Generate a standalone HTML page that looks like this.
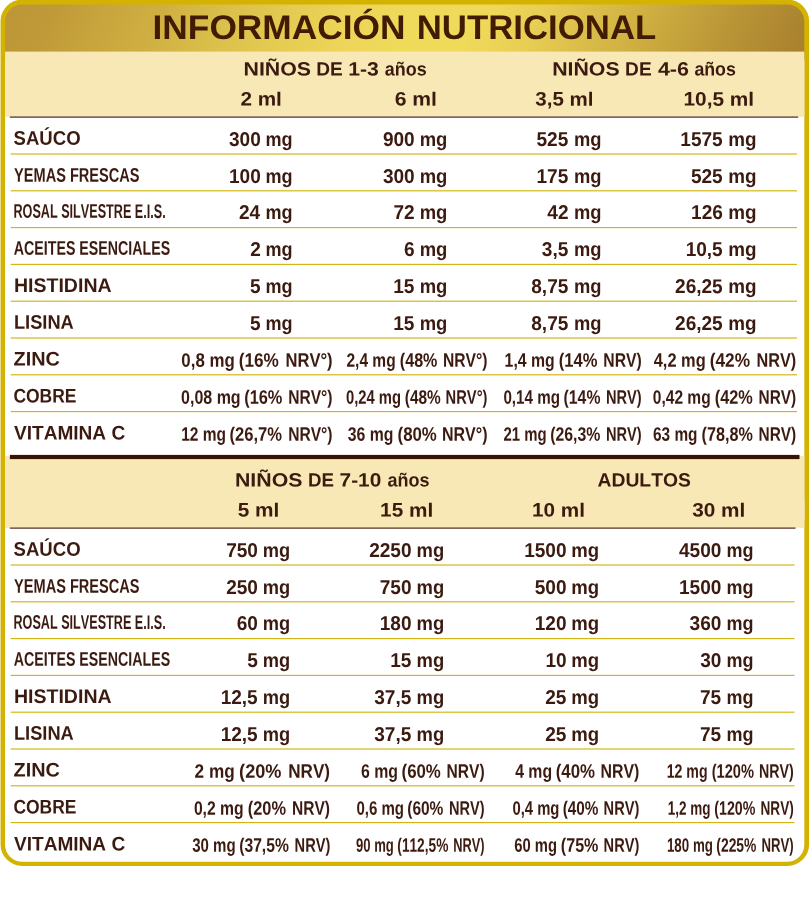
<!DOCTYPE html>
<html lang="es">
<head>
<meta charset="utf-8">
<title>Información nutricional</title>
<style>
html,body{margin:0;padding:0;background:#ffffff;}
body{width:810px;height:902px;overflow:hidden;font-family:"Liberation Sans",sans-serif;}
svg{display:block;}
svg text{font-family:"Liberation Sans",sans-serif;font-weight:700;font-kerning:none;white-space:pre;}
</style>
</head>
<body>
<svg width="810" height="902" viewBox="0 0 810 902">
<defs>
<linearGradient id="hg" gradientUnits="userSpaceOnUse" x1="0" y1="28" x2="663.9" y2="339.2">
<stop offset="0" stop-color="#bd9737"/>
<stop offset="0.06" stop-color="#c09a38"/>
<stop offset="0.12" stop-color="#c8a53d"/>
<stop offset="0.19" stop-color="#d0af42"/>
<stop offset="0.27" stop-color="#dabf4a"/>
<stop offset="0.35" stop-color="#e4cb52"/>
<stop offset="0.43" stop-color="#ecd558"/>
<stop offset="0.50" stop-color="#f0da5a"/>
<stop offset="0.58" stop-color="#f0da5a"/>
<stop offset="0.66" stop-color="#e8ce54"/>
<stop offset="0.74" stop-color="#d8ba48"/>
<stop offset="0.81" stop-color="#cbab3f"/>
<stop offset="0.90" stop-color="#ba9536"/>
<stop offset="1" stop-color="#a9812f"/>
</linearGradient>
</defs>
<rect x="0.57" y="-0.4" width="808.53" height="866.3" rx="21.5" ry="21.5" fill="#d3b300"/>
<path d="M5.07,70 L5.07,21.4 A17.0,17.0 0 0 1 22.07,4.4 L787.3,4.4 A17.0,17.0 0 0 1 804.3,21.4 L804.3,70 Z" fill="url(#hg)"/>
<path d="M5.07,500 L804.3,500 L804.3,844.7 A17.0,17.0 0 0 1 787.3,861.7 L22.07,861.7 A17.0,17.0 0 0 1 5.07,844.7 Z" fill="#ffffff"/>
<rect x="5.07" y="60" width="799.2299999999999" height="460" fill="#ffffff"/>
<rect x="5.07" y="51.6" width="799.2299999999999" height="65.30" fill="#f8e8b5"/>
<rect x="5.07" y="455.8" width="799.2299999999999" height="72" fill="#f8e8b5"/>
<rect x="9.8" y="116.4" width="788.4" height="1.45" fill="#6b4c40"/>
<rect x="9.8" y="527.4" width="785.7" height="1.45" fill="#6b4c40"/>
<rect x="9.9" y="454.9" width="789.6" height="4.2" fill="#3a1403"/>
<rect x="10.7" y="153.42" width="786.3" height="1.16" fill="#d3b510"/>
<rect x="10.7" y="190.22" width="786.3" height="1.16" fill="#d3b510"/>
<rect x="10.7" y="227.02" width="786.3" height="1.16" fill="#d3b510"/>
<rect x="10.7" y="263.82" width="786.3" height="1.16" fill="#d3b510"/>
<rect x="10.7" y="300.62" width="786.3" height="1.16" fill="#d3b510"/>
<rect x="10.7" y="337.42" width="786.3" height="1.16" fill="#d3b510"/>
<rect x="10.7" y="374.22" width="786.3" height="1.16" fill="#d3b510"/>
<rect x="10.7" y="411.02" width="786.3" height="1.16" fill="#d3b510"/>
<rect x="10.7" y="564.42" width="783.8" height="1.16" fill="#d3b510"/>
<rect x="10.7" y="601.22" width="783.8" height="1.16" fill="#d3b510"/>
<rect x="10.7" y="638.02" width="783.8" height="1.16" fill="#d3b510"/>
<rect x="10.7" y="674.82" width="783.8" height="1.16" fill="#d3b510"/>
<rect x="10.7" y="711.62" width="783.8" height="1.16" fill="#d3b510"/>
<rect x="10.7" y="748.42" width="783.8" height="1.16" fill="#d3b510"/>
<rect x="10.7" y="785.22" width="783.8" height="1.16" fill="#d3b510"/>
<rect x="10.7" y="822.02" width="783.8" height="1.16" fill="#d3b510"/>
<g font-family="'Liberation Sans', sans-serif" font-weight="700" style="font-kerning:none" text-rendering="geometricPrecision" opacity="0.999">
<text transform="rotate(0.05 152.54 38.90)" x="152.54" y="38.90" textLength="252.94" lengthAdjust="spacingAndGlyphs" font-size="34.16" fill="#421b05">INFORMACIÓN</text>
<text transform="rotate(0.05 416.77 38.90)" x="416.77" y="38.90" textLength="239.50" lengthAdjust="spacingAndGlyphs" font-size="34.16" fill="#421b05">NUTRICIONAL</text>
<text transform="translate(243.47,75.40) rotate(0.05) scale(1.1119,1)" font-size="19.19" fill="#3b1a10">NIÑOS</text>
<text transform="translate(316.22,75.40) rotate(0.05) scale(0.9951,1)" font-size="19.19" fill="#3b1a10">DE</text>
<text transform="translate(348.27,75.40) rotate(0.05) scale(1.1034,1)" font-size="19.19" fill="#3b1a10">1-3</text>
<text transform="translate(384.87,75.40) rotate(0.05) scale(0.9348,1)" font-size="19.19" fill="#3b1a10">años</text>
<text transform="translate(552.18,75.40) rotate(0.05) scale(1.1102,1)" font-size="19.19" fill="#3b1a10">NIÑOS</text>
<text transform="translate(625.12,75.40) rotate(0.05) scale(0.9951,1)" font-size="19.19" fill="#3b1a10">DE</text>
<text transform="translate(657.88,75.40) rotate(0.05) scale(1.1179,1)" font-size="19.19" fill="#3b1a10">4-6</text>
<text transform="translate(694.38,75.40) rotate(0.05) scale(0.9256,1)" font-size="19.19" fill="#3b1a10">años</text>
<text transform="translate(240.38,105.60) rotate(0.05) scale(1.0645,1)" font-size="19.48" fill="#3b1a10">2 ml</text>
<text transform="translate(394.63,105.60) rotate(0.05) scale(1.0846,1)" font-size="19.48" fill="#3b1a10">6 ml</text>
<text transform="translate(535.33,105.60) rotate(0.05) scale(1.0545,1)" font-size="19.48" fill="#3b1a10">3,5 ml</text>
<text transform="translate(683.49,105.60) rotate(0.05) scale(1.0702,1)" font-size="19.48" fill="#3b1a10">10,5 ml</text>
<text transform="translate(13.57,144.70) rotate(0.05) scale(0.9387,1)" font-size="19.77" fill="#3b1a10">SAÚCO</text>
<text transform="translate(14.05,181.70) rotate(0.05) scale(0.7373,1)" font-size="19.77" fill="#3b1a10">YEMAS FRESCAS</text>
<text transform="translate(13.45,217.80) rotate(0.05) scale(0.6390,1)" font-size="19.77" fill="#3b1a10">ROSAL SILVESTRE E.I.S.</text>
<text transform="translate(13.75,254.70) rotate(0.05) scale(0.7192,1)" font-size="19.77" fill="#3b1a10">ACEITES ESENCIALES</text>
<text transform="translate(13.89,291.90) rotate(0.05) scale(0.9887,1)" font-size="19.77" fill="#3b1a10">HISTIDINA</text>
<text transform="translate(13.98,328.70) rotate(0.05) scale(0.9229,1)" font-size="19.77" fill="#3b1a10">LISINA</text>
<text transform="translate(13.51,365.40) rotate(0.05) scale(1.0047,1)" font-size="19.77" fill="#3b1a10">ZINC</text>
<text transform="translate(13.38,402.50) rotate(0.05) scale(0.8839,1)" font-size="19.77" fill="#3b1a10">COBRE</text>
<text transform="translate(13.97,439.40) rotate(0.05) scale(0.9648,1)" font-size="19.77" fill="#3b1a10">VITAMINA C</text>
<text transform="translate(265.41,145.90) rotate(0.05) scale(0.9007,1)" font-size="20.06" fill="#3b1a10">mg</text>
<text transform="translate(228.98,145.90) rotate(0.05) scale(0.9502,1)" font-size="20.06" fill="#3b1a10">300</text>
<text transform="translate(419.69,145.90) rotate(0.05) scale(0.9189,1)" font-size="20.06" fill="#3b1a10">mg</text>
<text transform="translate(382.88,145.90) rotate(0.05) scale(0.9502,1)" font-size="20.06" fill="#3b1a10">900</text>
<text transform="translate(573.99,145.90) rotate(0.05) scale(0.9153,1)" font-size="20.06" fill="#3b1a10">mg</text>
<text transform="translate(536.53,145.90) rotate(0.05) scale(0.9502,1)" font-size="20.06" fill="#3b1a10">525</text>
<text transform="translate(728.16,145.90) rotate(0.05) scale(0.9408,1)" font-size="20.06" fill="#3b1a10">mg</text>
<text transform="translate(680.33,145.90) rotate(0.05) scale(0.9502,1)" font-size="20.06" fill="#3b1a10">1575</text>
<text transform="translate(265.41,182.90) rotate(0.05) scale(0.9007,1)" font-size="20.06" fill="#3b1a10">mg</text>
<text transform="translate(228.98,182.90) rotate(0.05) scale(0.9502,1)" font-size="20.06" fill="#3b1a10">100</text>
<text transform="translate(419.69,182.90) rotate(0.05) scale(0.9189,1)" font-size="20.06" fill="#3b1a10">mg</text>
<text transform="translate(382.88,182.90) rotate(0.05) scale(0.9502,1)" font-size="20.06" fill="#3b1a10">300</text>
<text transform="translate(573.99,182.90) rotate(0.05) scale(0.9153,1)" font-size="20.06" fill="#3b1a10">mg</text>
<text transform="translate(536.53,182.90) rotate(0.05) scale(0.9502,1)" font-size="20.06" fill="#3b1a10">175</text>
<text transform="translate(728.16,182.90) rotate(0.05) scale(0.9408,1)" font-size="20.06" fill="#3b1a10">mg</text>
<text transform="translate(690.93,182.90) rotate(0.05) scale(0.9502,1)" font-size="20.06" fill="#3b1a10">525</text>
<text transform="translate(265.41,219.00) rotate(0.05) scale(0.9007,1)" font-size="20.06" fill="#3b1a10">mg</text>
<text transform="translate(238.90,219.00) rotate(0.05) scale(0.9502,1)" font-size="20.06" fill="#3b1a10">24</text>
<text transform="translate(419.69,219.00) rotate(0.05) scale(0.9189,1)" font-size="20.06" fill="#3b1a10">mg</text>
<text transform="translate(393.46,219.00) rotate(0.05) scale(0.9502,1)" font-size="20.06" fill="#3b1a10">72</text>
<text transform="translate(573.99,219.00) rotate(0.05) scale(0.9153,1)" font-size="20.06" fill="#3b1a10">mg</text>
<text transform="translate(547.36,219.00) rotate(0.05) scale(0.9502,1)" font-size="20.06" fill="#3b1a10">42</text>
<text transform="translate(728.16,219.00) rotate(0.05) scale(0.9408,1)" font-size="20.06" fill="#3b1a10">mg</text>
<text transform="translate(691.09,219.00) rotate(0.05) scale(0.9502,1)" font-size="20.06" fill="#3b1a10">126</text>
<text transform="translate(265.41,255.90) rotate(0.05) scale(0.9007,1)" font-size="20.06" fill="#3b1a10">mg</text>
<text transform="translate(250.16,255.90) rotate(0.05) scale(0.9502,1)" font-size="20.06" fill="#3b1a10">2</text>
<text transform="translate(419.69,255.90) rotate(0.05) scale(0.9189,1)" font-size="20.06" fill="#3b1a10">mg</text>
<text transform="translate(403.99,255.90) rotate(0.05) scale(0.9502,1)" font-size="20.06" fill="#3b1a10">6</text>
<text transform="translate(573.99,255.90) rotate(0.05) scale(0.9153,1)" font-size="20.06" fill="#3b1a10">mg</text>
<text transform="translate(541.84,255.90) rotate(0.05) scale(0.9502,1)" font-size="20.06" fill="#3b1a10">3,5</text>
<text transform="translate(728.16,255.90) rotate(0.05) scale(0.9408,1)" font-size="20.06" fill="#3b1a10">mg</text>
<text transform="translate(685.64,255.90) rotate(0.05) scale(0.9502,1)" font-size="20.06" fill="#3b1a10">10,5</text>
<text transform="translate(265.41,293.10) rotate(0.05) scale(0.9007,1)" font-size="20.06" fill="#3b1a10">mg</text>
<text transform="translate(249.93,293.10) rotate(0.05) scale(0.9502,1)" font-size="20.06" fill="#3b1a10">5</text>
<text transform="translate(419.69,293.10) rotate(0.05) scale(0.9189,1)" font-size="20.06" fill="#3b1a10">mg</text>
<text transform="translate(393.23,293.10) rotate(0.05) scale(0.9502,1)" font-size="20.06" fill="#3b1a10">15</text>
<text transform="translate(573.99,293.10) rotate(0.05) scale(0.9153,1)" font-size="20.06" fill="#3b1a10">mg</text>
<text transform="translate(531.24,293.10) rotate(0.05) scale(0.9502,1)" font-size="20.06" fill="#3b1a10">8,75</text>
<text transform="translate(728.16,293.10) rotate(0.05) scale(0.9408,1)" font-size="20.06" fill="#3b1a10">mg</text>
<text transform="translate(675.04,293.10) rotate(0.05) scale(0.9502,1)" font-size="20.06" fill="#3b1a10">26,25</text>
<text transform="translate(265.41,329.90) rotate(0.05) scale(0.9007,1)" font-size="20.06" fill="#3b1a10">mg</text>
<text transform="translate(249.93,329.90) rotate(0.05) scale(0.9502,1)" font-size="20.06" fill="#3b1a10">5</text>
<text transform="translate(419.69,329.90) rotate(0.05) scale(0.9189,1)" font-size="20.06" fill="#3b1a10">mg</text>
<text transform="translate(393.23,329.90) rotate(0.05) scale(0.9502,1)" font-size="20.06" fill="#3b1a10">15</text>
<text transform="translate(573.99,329.90) rotate(0.05) scale(0.9153,1)" font-size="20.06" fill="#3b1a10">mg</text>
<text transform="translate(531.24,329.90) rotate(0.05) scale(0.9502,1)" font-size="20.06" fill="#3b1a10">8,75</text>
<text transform="translate(728.16,329.90) rotate(0.05) scale(0.9408,1)" font-size="20.06" fill="#3b1a10">mg</text>
<text transform="translate(675.04,329.90) rotate(0.05) scale(0.9502,1)" font-size="20.06" fill="#3b1a10">26,25</text>
<text transform="translate(181.33,366.65) rotate(0.05) scale(0.8653,1)" font-size="19.48" fill="#3b1a10">0,8 mg</text>
<text transform="translate(238.74,366.65) rotate(0.05) scale(0.8821,1)" font-size="19.48" fill="#3b1a10">(16%</text>
<text transform="translate(285.49,366.65) rotate(0.05) scale(0.8508,1)" font-size="19.48" fill="#3b1a10">NRV°)</text>
<text transform="translate(346.46,366.65) rotate(0.05) scale(0.7970,1)" font-size="19.48" fill="#3b1a10">2,4 mg</text>
<text transform="translate(399.80,366.65) rotate(0.05) scale(0.8276,1)" font-size="19.48" fill="#3b1a10">(48%</text>
<text transform="translate(442.95,366.65) rotate(0.05) scale(0.8038,1)" font-size="19.48" fill="#3b1a10">NRV°)</text>
<text transform="translate(504.60,366.65) rotate(0.05) scale(0.8112,1)" font-size="19.48" fill="#3b1a10">1,4 mg</text>
<text transform="translate(558.78,366.65) rotate(0.05) scale(0.8503,1)" font-size="19.48" fill="#3b1a10">(14%</text>
<text transform="translate(603.35,366.65) rotate(0.05) scale(0.8073,1)" font-size="19.48" fill="#3b1a10">NRV)</text>
<text transform="translate(653.75,366.65) rotate(0.05) scale(0.8419,1)" font-size="19.48" fill="#3b1a10">4,2 mg</text>
<text transform="translate(709.74,366.65) rotate(0.05) scale(0.8867,1)" font-size="19.48" fill="#3b1a10">(42%</text>
<text transform="translate(756.51,366.65) rotate(0.05) scale(0.8360,1)" font-size="19.48" fill="#3b1a10">NRV)</text>
<text transform="translate(181.07,403.75) rotate(0.05) scale(0.8217,1)" font-size="19.48" fill="#3b1a10">0,08 mg</text>
<text transform="translate(244.18,403.75) rotate(0.05) scale(0.8412,1)" font-size="19.48" fill="#3b1a10">(16%</text>
<text transform="translate(288.16,403.75) rotate(0.05) scale(0.8019,1)" font-size="19.48" fill="#3b1a10">NRV°)</text>
<text transform="translate(345.92,403.75) rotate(0.05) scale(0.7593,1)" font-size="19.48" fill="#3b1a10">0,24 mg</text>
<text transform="translate(404.83,403.75) rotate(0.05) scale(0.7912,1)" font-size="19.48" fill="#3b1a10">(48%</text>
<text transform="translate(445.62,403.75) rotate(0.05) scale(0.7548,1)" font-size="19.48" fill="#3b1a10">NRV°)</text>
<text transform="translate(503.40,403.75) rotate(0.05) scale(0.7806,1)" font-size="19.48" fill="#3b1a10">0,14 mg</text>
<text transform="translate(563.61,403.75) rotate(0.05) scale(0.8094,1)" font-size="19.48" fill="#3b1a10">(14%</text>
<text transform="translate(606.02,403.75) rotate(0.05) scale(0.7500,1)" font-size="19.48" fill="#3b1a10">NRV)</text>
<text transform="translate(652.79,403.75) rotate(0.05) scale(0.7976,1)" font-size="19.48" fill="#3b1a10">0,42 mg</text>
<text transform="translate(714.79,403.75) rotate(0.05) scale(0.8366,1)" font-size="19.48" fill="#3b1a10">(42%</text>
<text transform="translate(758.57,403.75) rotate(0.05) scale(0.7919,1)" font-size="19.48" fill="#3b1a10">NRV)</text>
<text transform="translate(181.22,440.65) rotate(0.05) scale(0.7961,1)" font-size="19.48" fill="#3b1a10">12 mg</text>
<text transform="translate(229.58,440.65) rotate(0.05) scale(0.8501,1)" font-size="19.48" fill="#3b1a10">(26,7%</text>
<text transform="translate(288.16,440.65) rotate(0.05) scale(0.8019,1)" font-size="19.48" fill="#3b1a10">NRV°)</text>
<text transform="translate(347.84,440.65) rotate(0.05) scale(0.8104,1)" font-size="19.48" fill="#3b1a10">36 mg</text>
<text transform="translate(397.56,440.65) rotate(0.05) scale(0.8639,1)" font-size="19.48" fill="#3b1a10">(80%</text>
<text transform="translate(441.93,440.65) rotate(0.05) scale(0.8226,1)" font-size="19.48" fill="#3b1a10">NRV°)</text>
<text transform="translate(503.48,440.65) rotate(0.05) scale(0.7659,1)" font-size="19.48" fill="#3b1a10">21 mg</text>
<text transform="translate(550.21,440.65) rotate(0.05) scale(0.8136,1)" font-size="19.48" fill="#3b1a10">(26,3%</text>
<text transform="translate(606.02,440.65) rotate(0.05) scale(0.7500,1)" font-size="19.48" fill="#3b1a10">NRV)</text>
<text transform="translate(653.04,440.65) rotate(0.05) scale(0.7886,1)" font-size="19.48" fill="#3b1a10">63 mg</text>
<text transform="translate(701.59,440.65) rotate(0.05) scale(0.8302,1)" font-size="19.48" fill="#3b1a10">(78,8%</text>
<text transform="translate(758.57,440.65) rotate(0.05) scale(0.7919,1)" font-size="19.48" fill="#3b1a10">NRV)</text>
<text transform="translate(234.98,486.40) rotate(0.05) scale(1.1102,1)" font-size="19.19" fill="#3b1a10">NIÑOS</text>
<text transform="translate(307.95,486.40) rotate(0.05) scale(0.9748,1)" font-size="19.19" fill="#3b1a10">DE</text>
<text transform="translate(339.61,486.40) rotate(0.05) scale(1.0845,1)" font-size="19.19" fill="#3b1a10">7-10</text>
<text transform="translate(387.47,486.40) rotate(0.05) scale(0.9394,1)" font-size="19.19" fill="#3b1a10">años</text>
<text transform="translate(597.52,486.40) rotate(0.05) scale(1.0066,1)" font-size="19.19" fill="#3b1a10">ADULTOS</text>
<text transform="translate(237.76,516.60) rotate(0.05) scale(1.0677,1)" font-size="19.48" fill="#3b1a10">5 ml</text>
<text transform="translate(380.09,516.60) rotate(0.05) scale(1.0657,1)" font-size="19.48" fill="#3b1a10">15 ml</text>
<text transform="translate(532.00,516.60) rotate(0.05) scale(1.0636,1)" font-size="19.48" fill="#3b1a10">10 ml</text>
<text transform="translate(692.22,516.60) rotate(0.05) scale(1.0650,1)" font-size="19.48" fill="#3b1a10">30 ml</text>
<text transform="translate(13.57,555.70) rotate(0.05) scale(0.9387,1)" font-size="19.77" fill="#3b1a10">SAÚCO</text>
<text transform="translate(14.05,592.70) rotate(0.05) scale(0.7373,1)" font-size="19.77" fill="#3b1a10">YEMAS FRESCAS</text>
<text transform="translate(13.45,628.80) rotate(0.05) scale(0.6390,1)" font-size="19.77" fill="#3b1a10">ROSAL SILVESTRE E.I.S.</text>
<text transform="translate(13.75,665.70) rotate(0.05) scale(0.7192,1)" font-size="19.77" fill="#3b1a10">ACEITES ESENCIALES</text>
<text transform="translate(13.89,702.90) rotate(0.05) scale(0.9887,1)" font-size="19.77" fill="#3b1a10">HISTIDINA</text>
<text transform="translate(13.98,739.70) rotate(0.05) scale(0.9229,1)" font-size="19.77" fill="#3b1a10">LISINA</text>
<text transform="translate(13.51,776.40) rotate(0.05) scale(1.0047,1)" font-size="19.77" fill="#3b1a10">ZINC</text>
<text transform="translate(13.38,813.50) rotate(0.05) scale(0.8839,1)" font-size="19.77" fill="#3b1a10">COBRE</text>
<text transform="translate(13.97,850.40) rotate(0.05) scale(0.9648,1)" font-size="19.77" fill="#3b1a10">VITAMINA C</text>
<text transform="translate(262.69,556.90) rotate(0.05) scale(0.9116,1)" font-size="20.06" fill="#3b1a10">mg</text>
<text transform="translate(226.18,556.90) rotate(0.05) scale(0.9502,1)" font-size="20.06" fill="#3b1a10">750</text>
<text transform="translate(416.59,556.90) rotate(0.05) scale(0.9189,1)" font-size="20.06" fill="#3b1a10">mg</text>
<text transform="translate(369.18,556.90) rotate(0.05) scale(0.9502,1)" font-size="20.06" fill="#3b1a10">2250</text>
<text transform="translate(571.18,556.90) rotate(0.05) scale(0.9262,1)" font-size="20.06" fill="#3b1a10">mg</text>
<text transform="translate(524.18,556.90) rotate(0.05) scale(0.9502,1)" font-size="20.06" fill="#3b1a10">1500</text>
<text transform="translate(726.41,556.90) rotate(0.05) scale(0.8970,1)" font-size="20.06" fill="#3b1a10">mg</text>
<text transform="translate(678.98,556.90) rotate(0.05) scale(0.9502,1)" font-size="20.06" fill="#3b1a10">4500</text>
<text transform="translate(262.69,593.90) rotate(0.05) scale(0.9116,1)" font-size="20.06" fill="#3b1a10">mg</text>
<text transform="translate(226.18,593.90) rotate(0.05) scale(0.9502,1)" font-size="20.06" fill="#3b1a10">250</text>
<text transform="translate(416.59,593.90) rotate(0.05) scale(0.9189,1)" font-size="20.06" fill="#3b1a10">mg</text>
<text transform="translate(379.78,593.90) rotate(0.05) scale(0.9502,1)" font-size="20.06" fill="#3b1a10">750</text>
<text transform="translate(571.18,593.90) rotate(0.05) scale(0.9262,1)" font-size="20.06" fill="#3b1a10">mg</text>
<text transform="translate(534.78,593.90) rotate(0.05) scale(0.9502,1)" font-size="20.06" fill="#3b1a10">500</text>
<text transform="translate(726.41,593.90) rotate(0.05) scale(0.8970,1)" font-size="20.06" fill="#3b1a10">mg</text>
<text transform="translate(678.98,593.90) rotate(0.05) scale(0.9502,1)" font-size="20.06" fill="#3b1a10">1500</text>
<text transform="translate(262.69,630.00) rotate(0.05) scale(0.9116,1)" font-size="20.06" fill="#3b1a10">mg</text>
<text transform="translate(236.78,630.00) rotate(0.05) scale(0.9502,1)" font-size="20.06" fill="#3b1a10">60</text>
<text transform="translate(416.59,630.00) rotate(0.05) scale(0.9189,1)" font-size="20.06" fill="#3b1a10">mg</text>
<text transform="translate(379.78,630.00) rotate(0.05) scale(0.9502,1)" font-size="20.06" fill="#3b1a10">180</text>
<text transform="translate(571.18,630.00) rotate(0.05) scale(0.9262,1)" font-size="20.06" fill="#3b1a10">mg</text>
<text transform="translate(534.78,630.00) rotate(0.05) scale(0.9502,1)" font-size="20.06" fill="#3b1a10">120</text>
<text transform="translate(726.41,630.00) rotate(0.05) scale(0.8970,1)" font-size="20.06" fill="#3b1a10">mg</text>
<text transform="translate(689.58,630.00) rotate(0.05) scale(0.9502,1)" font-size="20.06" fill="#3b1a10">360</text>
<text transform="translate(262.69,666.90) rotate(0.05) scale(0.9116,1)" font-size="20.06" fill="#3b1a10">mg</text>
<text transform="translate(247.13,666.90) rotate(0.05) scale(0.9502,1)" font-size="20.06" fill="#3b1a10">5</text>
<text transform="translate(416.59,666.90) rotate(0.05) scale(0.9189,1)" font-size="20.06" fill="#3b1a10">mg</text>
<text transform="translate(390.13,666.90) rotate(0.05) scale(0.9502,1)" font-size="20.06" fill="#3b1a10">15</text>
<text transform="translate(571.18,666.90) rotate(0.05) scale(0.9262,1)" font-size="20.06" fill="#3b1a10">mg</text>
<text transform="translate(545.38,666.90) rotate(0.05) scale(0.9502,1)" font-size="20.06" fill="#3b1a10">10</text>
<text transform="translate(726.41,666.90) rotate(0.05) scale(0.8970,1)" font-size="20.06" fill="#3b1a10">mg</text>
<text transform="translate(700.18,666.90) rotate(0.05) scale(0.9502,1)" font-size="20.06" fill="#3b1a10">30</text>
<text transform="translate(262.69,704.10) rotate(0.05) scale(0.9116,1)" font-size="20.06" fill="#3b1a10">mg</text>
<text transform="translate(220.64,704.10) rotate(0.05) scale(0.9502,1)" font-size="20.06" fill="#3b1a10">12,5</text>
<text transform="translate(416.59,704.10) rotate(0.05) scale(0.9189,1)" font-size="20.06" fill="#3b1a10">mg</text>
<text transform="translate(374.24,704.10) rotate(0.05) scale(0.9502,1)" font-size="20.06" fill="#3b1a10">37,5</text>
<text transform="translate(571.18,704.10) rotate(0.05) scale(0.9262,1)" font-size="20.06" fill="#3b1a10">mg</text>
<text transform="translate(545.13,704.10) rotate(0.05) scale(0.9502,1)" font-size="20.06" fill="#3b1a10">25</text>
<text transform="translate(726.41,704.10) rotate(0.05) scale(0.8970,1)" font-size="20.06" fill="#3b1a10">mg</text>
<text transform="translate(699.93,704.10) rotate(0.05) scale(0.9502,1)" font-size="20.06" fill="#3b1a10">75</text>
<text transform="translate(262.69,740.90) rotate(0.05) scale(0.9116,1)" font-size="20.06" fill="#3b1a10">mg</text>
<text transform="translate(220.64,740.90) rotate(0.05) scale(0.9502,1)" font-size="20.06" fill="#3b1a10">12,5</text>
<text transform="translate(416.59,740.90) rotate(0.05) scale(0.9189,1)" font-size="20.06" fill="#3b1a10">mg</text>
<text transform="translate(374.24,740.90) rotate(0.05) scale(0.9502,1)" font-size="20.06" fill="#3b1a10">37,5</text>
<text transform="translate(571.18,740.90) rotate(0.05) scale(0.9262,1)" font-size="20.06" fill="#3b1a10">mg</text>
<text transform="translate(545.13,740.90) rotate(0.05) scale(0.9502,1)" font-size="20.06" fill="#3b1a10">25</text>
<text transform="translate(726.41,740.90) rotate(0.05) scale(0.8970,1)" font-size="20.06" fill="#3b1a10">mg</text>
<text transform="translate(699.93,740.90) rotate(0.05) scale(0.9502,1)" font-size="20.06" fill="#3b1a10">75</text>
<text transform="translate(194.60,777.65) rotate(0.05) scale(0.8831,1)" font-size="19.48" fill="#3b1a10">2 mg</text>
<text transform="translate(239.10,777.65) rotate(0.05) scale(0.9321,1)" font-size="19.48" fill="#3b1a10">(20%</text>
<text transform="translate(288.26,777.65) rotate(0.05) scale(0.8779,1)" font-size="19.48" fill="#3b1a10">NRV)</text>
<text transform="translate(361.02,777.65) rotate(0.05) scale(0.8149,1)" font-size="19.48" fill="#3b1a10">6 mg</text>
<text transform="translate(401.56,777.65) rotate(0.05) scale(0.8639,1)" font-size="19.48" fill="#3b1a10">(60%</text>
<text transform="translate(446.56,777.65) rotate(0.05) scale(0.8007,1)" font-size="19.48" fill="#3b1a10">NRV)</text>
<text transform="translate(515.16,777.65) rotate(0.05) scale(0.8116,1)" font-size="19.48" fill="#3b1a10">4 mg</text>
<text transform="translate(555.76,777.65) rotate(0.05) scale(0.8639,1)" font-size="19.48" fill="#3b1a10">(40%</text>
<text transform="translate(600.54,777.65) rotate(0.05) scale(0.8161,1)" font-size="19.48" fill="#3b1a10">NRV)</text>
<text transform="translate(666.71,777.65) rotate(0.05) scale(0.7254,1)" font-size="19.48" fill="#3b1a10">12 mg</text>
<text transform="translate(711.67,777.65) rotate(0.05) scale(0.7516,1)" font-size="19.48" fill="#3b1a10">(120%</text>
<text transform="translate(759.05,777.65) rotate(0.05) scale(0.7301,1)" font-size="19.48" fill="#3b1a10">NRV)</text>
<text transform="translate(193.88,814.75) rotate(0.05) scale(0.8066,1)" font-size="19.48" fill="#3b1a10">0,2 mg</text>
<text transform="translate(247.78,814.75) rotate(0.05) scale(0.8412,1)" font-size="19.48" fill="#3b1a10">(20%</text>
<text transform="translate(291.96,814.75) rotate(0.05) scale(0.7985,1)" font-size="19.48" fill="#3b1a10">NRV)</text>
<text transform="translate(356.41,814.75) rotate(0.05) scale(0.7714,1)" font-size="19.48" fill="#3b1a10">0,6 mg</text>
<text transform="translate(407.23,814.75) rotate(0.05) scale(0.7957,1)" font-size="19.48" fill="#3b1a10">(60%</text>
<text transform="translate(449.03,814.75) rotate(0.05) scale(0.7478,1)" font-size="19.48" fill="#3b1a10">NRV)</text>
<text transform="translate(512.41,814.75) rotate(0.05) scale(0.7614,1)" font-size="19.48" fill="#3b1a10">0,4 mg</text>
<text transform="translate(562.64,814.75) rotate(0.05) scale(0.7866,1)" font-size="19.48" fill="#3b1a10">(40%</text>
<text transform="translate(603.62,814.75) rotate(0.05) scale(0.7500,1)" font-size="19.48" fill="#3b1a10">NRV)</text>
<text transform="translate(667.75,814.75) rotate(0.05) scale(0.6929,1)" font-size="19.48" fill="#3b1a10">1,2 mg</text>
<text transform="translate(714.29,814.75) rotate(0.05) scale(0.7297,1)" font-size="19.48" fill="#3b1a10">(120%</text>
<text transform="translate(760.49,814.75) rotate(0.05) scale(0.6992,1)" font-size="19.48" fill="#3b1a10">NRV)</text>
<text transform="translate(192.15,851.65) rotate(0.05) scale(0.7719,1)" font-size="19.48" fill="#3b1a10">30 mg</text>
<text transform="translate(239.22,851.65) rotate(0.05) scale(0.8036,1)" font-size="19.48" fill="#3b1a10">(37,5%</text>
<text transform="translate(294.62,851.65) rotate(0.05) scale(0.7522,1)" font-size="19.48" fill="#3b1a10">NRV)</text>
<text transform="translate(356.05,851.65) rotate(0.05) scale(0.6720,1)" font-size="19.48" fill="#3b1a10">90 mg</text>
<text transform="translate(397.32,851.65) rotate(0.05) scale(0.7036,1)" font-size="19.48" fill="#3b1a10">(112,5%</text>
<text transform="translate(453.14,851.65) rotate(0.05) scale(0.6595,1)" font-size="19.48" fill="#3b1a10">NRV)</text>
<text transform="translate(514.26,851.65) rotate(0.05) scale(0.7591,1)" font-size="19.48" fill="#3b1a10">60 mg</text>
<text transform="translate(560.80,851.65) rotate(0.05) scale(0.8276,1)" font-size="19.48" fill="#3b1a10">(75%</text>
<text transform="translate(603.62,851.65) rotate(0.05) scale(0.7500,1)" font-size="19.48" fill="#3b1a10">NRV)</text>
<text transform="translate(666.96,851.65) rotate(0.05) scale(0.6843,1)" font-size="19.48" fill="#3b1a10">180 mg</text>
<text transform="translate(716.31,851.65) rotate(0.05) scale(0.7115,1)" font-size="19.48" fill="#3b1a10">(225%</text>
<text transform="translate(761.52,851.65) rotate(0.05) scale(0.6772,1)" font-size="19.48" fill="#3b1a10">NRV)</text>
</g>
</svg>
</body>
</html>
